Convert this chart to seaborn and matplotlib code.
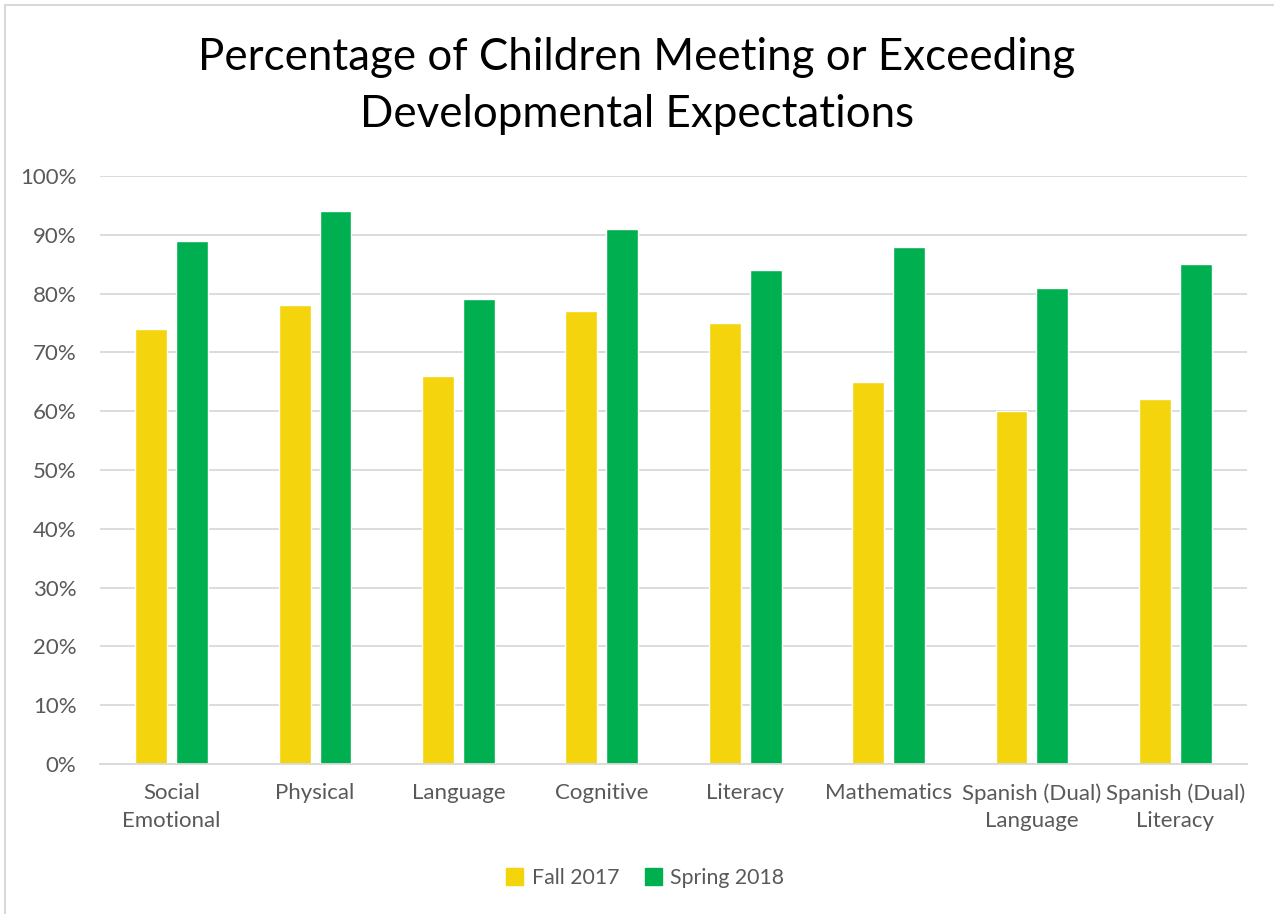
#!/usr/bin/env python3
# -*- coding: utf-8 -*-

"""
Grouped bar chart: children meeting or exceeding developmental expectations.
"""

import matplotlib
matplotlib.use('Agg')
import matplotlib.pyplot as plt
import matplotlib.patches as mpatches
import pandas as pd
import seaborn as sns

categories = ['Social\nEmotional', 'Physical', 'Language', 'Cognitive',
              'Literacy', 'Mathematics', 'Spanish (Dual)\nLanguage',
              'Spanish (Dual)\nLiteracy']
fall_2017 = [74, 78, 66, 77, 75, 65, 60, 62]
spring_2018 = [89, 94, 79, 91, 84, 88, 81, 85]
series = ['Fall 2017', 'Spring 2018']
colors = ['#F4D40C', '#00B050']
yticks = list(range(0, 101, 10))

df = pd.DataFrame({
    'category': categories * 2,
    'value': fall_2017 + spring_2018,
    'season': [series[0]] * len(categories) + [series[1]] * len(categories),
})

sns.set_style('white')
plt.rcParams['font.family'] = ['Lato', 'DejaVu Sans']

fig = plt.figure(figsize=(12.74, 9.14), dpi=100)
ax = fig.add_axes([100 / 1274, 150 / 914, 1147 / 1274, 588 / 914])

sns.barplot(data=df, x='category', y='value', hue='season',
            palette=colors, saturation=1, width=0.57, gap=0.22, ax=ax,
            legend=False)

ax.set_ylim(0, 100)
ax.set_xlim(-0.5, len(categories) - 0.5)
ax.set_yticks(yticks)
ax.set_yticklabels([f'{t}%' for t in yticks])
ax.yaxis.grid(True, color='#D9D9D9', linewidth=1.3)
ax.set_axisbelow(True)
for side in ['top', 'right', 'left']:
    ax.spines[side].set_visible(False)
ax.spines['bottom'].set_color('#D9D9D9')
ax.spines['bottom'].set_linewidth(1.3)
ax.tick_params(axis='both', length=0, labelsize=16, colors='#595959')
ax.tick_params(axis='y', pad=17)
ax.tick_params(axis='x', pad=14)
for lbl in ax.get_xticklabels():
    lbl.set_linespacing(1.45)
ax.set_xlabel(None)
ax.set_ylabel(None)

fig.text(0.5, 1 - 86 / 914,
         'Percentage of Children Meeting or Exceeding\nDevelopmental Expectations',
         ha='center', va='center', fontsize=31.6, color='black', linespacing=1.5)

handles = [mpatches.Patch(color=c, label=s) for c, s in zip(colors, series)]
fig.legend(handles=handles, loc='center', bbox_to_anchor=(645 / 1274, 1 - 878 / 914),
           ncol=2, frameon=False, fontsize=15.3, labelcolor='#595959',
           handlelength=0.8, handleheight=0.8, handletextpad=0.4,
           columnspacing=1.2)

fig.patches.append(mpatches.Rectangle((5 / 1274, -0.1), 1.2, 1 - 5 / 914 + 0.1,
                                      transform=fig.transFigure, fill=False,
                                      edgecolor='#D9D9D9', linewidth=1.5))

fig.savefig('out.png', dpi=100)
